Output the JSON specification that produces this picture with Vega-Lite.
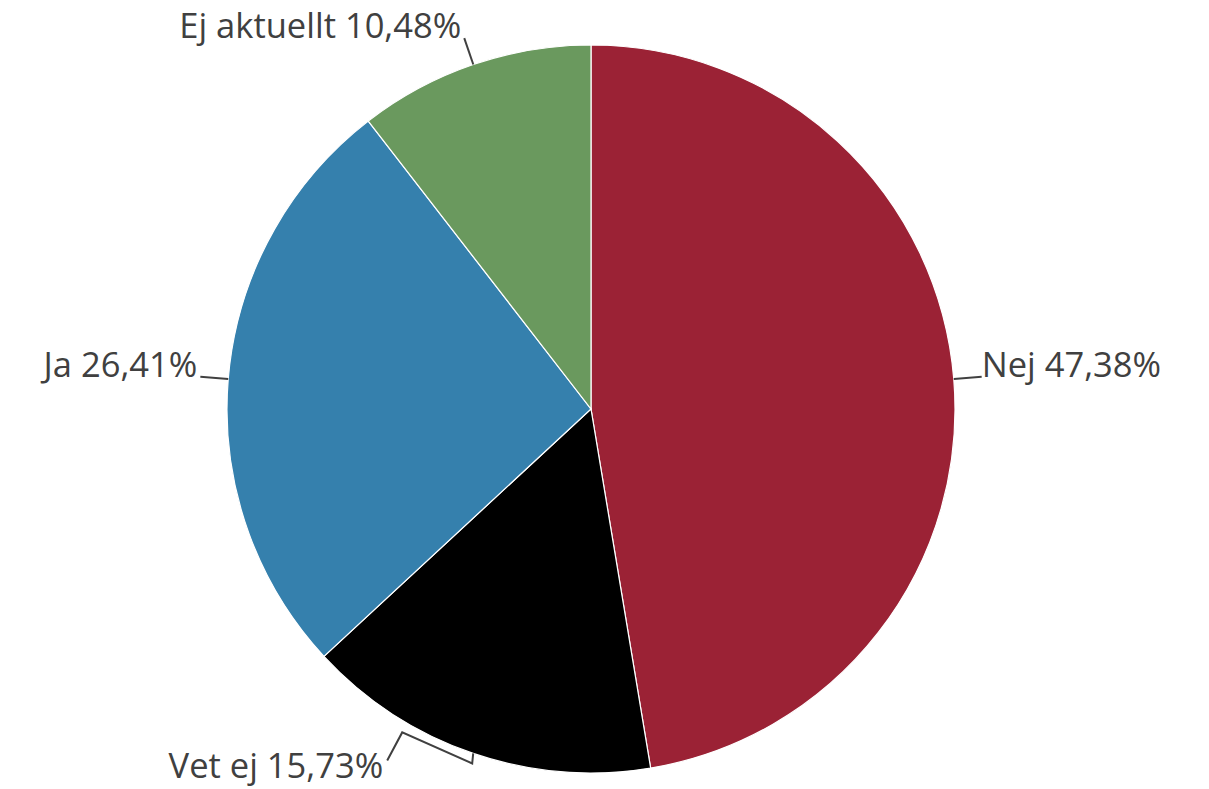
{
  "$schema": "https://vega.github.io/schema/vega-lite/v6.json",
  "width": 1182,
  "height": 760,
  "autosize": {"type": "none"},
  "padding": {"left": 0, "top": 29, "right": 27, "bottom": 0},
  "background": "#ffffff",
  "config": {"view": {"stroke": null}},
  "data": {
    "values": [
      {"category": "Nej", "value": 47.38, "order": 1},
      {"category": "Vet ej", "value": 15.73, "order": 2},
      {"category": "Ja", "value": 26.41, "order": 3},
      {"category": "Ej aktuellt", "value": 10.48, "order": 4}
    ]
  },
  "transform": [
    {"joinaggregate": [{"op": "sum", "field": "value", "as": "total"}]},
    {"stack": "value", "groupby": [], "sort": [{"field": "order"}], "as": ["v0", "v1"]},
    {"calculate": "PI * (datum.v0 + datum.v1) / datum.total", "as": "a"},
    {"calculate": "sin(datum.a)", "as": "sx"},
    {"calculate": "cos(datum.a)", "as": "cx"},
    {"calculate": "364 * datum.sx", "as": "px"},
    {"calculate": "364 * datum.cx", "as": "py"},
    {"calculate": "datum.cx < -0.9", "as": "bottom"},
    {"calculate": "datum.bottom ? datum.px - 90 : 392 * datum.sx + (datum.sx > 0 ? 0 : -3)", "as": "tx"},
    {"calculate": "datum.bottom ? datum.py - 25 : 392 * datum.cx", "as": "ty"},
    {"calculate": "datum.category + ' ' + replace(format(datum.value, '.2f'), '.', ',') + '%'", "as": "label"}
  ],
  "layer": [
    {
      "mark": {"type": "arc", "outerRadius": 364, "stroke": "#ffffff", "strokeWidth": 1.2},
      "encoding": {
        "theta": {"field": "value", "type": "quantitative", "stack": true},
        "order": {"field": "order", "type": "quantitative"},
        "color": {
          "field": "category",
          "type": "nominal",
          "scale": {
            "domain": ["Nej", "Vet ej", "Ja", "Ej aktuellt"],
            "range": ["#9b2235", "#000000", "#3580ad", "#6a995e"]
          },
          "legend": null
        }
      }
    },
    {
      "transform": [
        {"calculate": "datum.bottom ? [[datum.px, datum.py], [datum.px - 1, datum.py - 10], [datum.px - 71, datum.py + 21], [datum.px - 86, datum.py - 7]] : [[datum.px, datum.py], [392 * datum.sx, 392 * datum.cx]]", "as": "pts"},
        {"flatten": ["pts"], "as": ["pt"]},
        {"window": [{"op": "row_number", "as": "idx"}], "groupby": ["category"]},
        {"calculate": "datum.pt[0]", "as": "ptx"},
        {"calculate": "datum.pt[1]", "as": "pty"}
      ],
      "mark": {"type": "line", "color": "#404040", "strokeWidth": 2},
      "encoding": {
        "x": {"field": "ptx", "type": "quantitative", "scale": {"domain": [-591, 591], "nice": false, "zero": false}, "axis": null},
        "y": {"field": "pty", "type": "quantitative", "scale": {"domain": [-380, 380], "nice": false, "zero": false}, "axis": null},
        "detail": {"field": "category"},
        "order": {"field": "idx", "type": "quantitative"}
      }
    },
    {
      "transform": [{"filter": "datum.sx > 0"}],
      "mark": {"type": "text", "align": "left", "baseline": "alphabetic", "font": "Open Sans", "fontSize": 34.5, "color": "#404040"},
      "encoding": {
        "x": {"field": "tx", "type": "quantitative", "scale": {"domain": [-591, 591], "nice": false, "zero": false}, "axis": null},
        "y": {"field": "ty", "type": "quantitative", "scale": {"domain": [-380, 380], "nice": false, "zero": false}, "axis": null},
        "text": {"field": "label"}
      }
    },
    {
      "transform": [{"filter": "datum.sx <= 0"}],
      "mark": {"type": "text", "align": "right", "baseline": "alphabetic", "font": "Open Sans", "fontSize": 34.5, "color": "#404040"},
      "encoding": {
        "x": {"field": "tx", "type": "quantitative", "scale": {"domain": [-591, 591], "nice": false, "zero": false}, "axis": null},
        "y": {"field": "ty", "type": "quantitative", "scale": {"domain": [-380, 380], "nice": false, "zero": false}, "axis": null},
        "text": {"field": "label"}
      }
    }
  ]
}
